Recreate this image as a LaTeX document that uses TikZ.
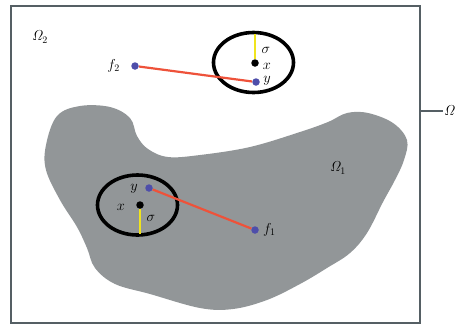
\documentclass[tikz,border=0pt]{standalone}
\usepackage{amsmath,amssymb}
\usetikzlibrary{calc,positioning}

\definecolor{blobgray}{RGB}{146,150,152}
\definecolor{framegray}{RGB}{85,95,100}
\definecolor{dotblue}{RGB}{78,78,170}
\definecolor{linered}{RGB}{238,82,58}
\definecolor{radyellow}{RGB}{240,228,30}

\begin{document}
\begin{tikzpicture}[x=1pt, y=-1pt,
    pt/.style={circle, fill=dotblue, inner sep=0pt, minimum size=7.5pt},
    ctr/.style={circle, fill=black, inner sep=0pt, minimum size=7.5pt},
    lbl/.style={inner sep=1pt, font=\Large},
    ring/.style={line width=3.6pt},
    link/.style={linered, line width=2.2pt},
    rad/.style={radyellow, line width=2.4pt}]
  \useasboundingbox (0,0) rectangle (474,325);
  % domain
  \draw[framegray, line width=1.3pt] (11,6) rectangle (420,323);
  \fill[blobgray] plot[smooth cycle, tension=0.6] coordinates {
    (46,145) (57,116) (80,106) (110,107) (130,118) (137,136) (148,149)
    (168,157) (200,155) (250,147) (300,132) (328,122) (347,113) (368,113)
    (393,123) (407,140) (404,160) (395,180) (383,202) (367,233) (350,253)
    (327,268) (300,284) (267,300) (233,309) (200,308) (150,294) (115,284)
    (95,268) (87,248) (77,227) (60,200) (46,170)};
  \coordinate (frame) at (420,111);
  \node[lbl, anchor=west] (omega) at (443,111) {$\mathit{\Omega}$};
  \draw[framegray, line width=1.3pt] (frame) -- (omega);
  \node[lbl] (omega2) at (40,37) {$\mathit{\Omega}_2$};
  \node[lbl] (omega1) at (338,168) {$\mathit{\Omega}_1$};

  % outside
  \draw[ring] (253.5,62.5) ellipse [x radius=40, y radius=30];
  \node[pt] (f2) at (135,66) {};
  \node[pt] (y2) at (256,82) {};
  \node[ctr] (x2) at (255,63) {};
  \coordinate (s2) at (255,34);
  \draw[rad] (x2) -- (s2);
  \draw[link] (f2) -- (y2);
  \node[lbl, left=10pt of f2] {$f_2$};
  \node[lbl] at (266,50) {$\sigma$};
  \node[lbl] at (267,66) {$x$};
  \node[lbl] at (267,81) {$y$};

  % inside
  \draw[ring] (137.5,205) ellipse [x radius=40, y radius=30];
  \node[pt] (f1) at (255,230) {};
  \node[pt] (y1) at (149,188) {};
  \node[ctr] (x1) at (140,205) {};
  \coordinate (s1) at (140,234);
  \draw[rad] (x1) -- (s1);
  \draw[link] (y1) -- (f1);
  \node[lbl, right=3pt of f1] {$f_1$};
  \node[lbl] at (151,218) {$\sigma$};
  \node[lbl] at (121,207) {$x$};
  \node[lbl] at (134,189) {$y$};
\end{tikzpicture}
\end{document}
